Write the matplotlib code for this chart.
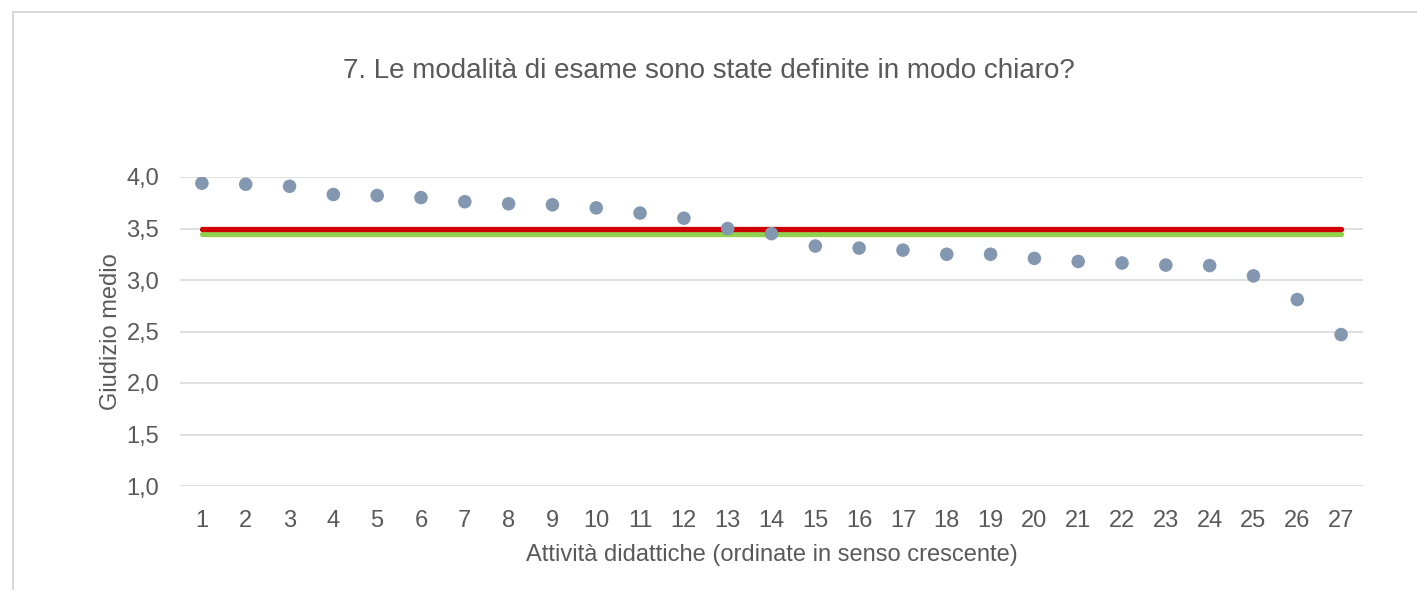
import matplotlib.pyplot as plt
from matplotlib.lines import Line2D
from matplotlib.ticker import FuncFormatter

plt.rcParams['font.family'] = ['Liberation Sans', 'DejaVu Sans']

attivita = list(range(1, 28))
giudizio = [3.94, 3.93, 3.91, 3.83, 3.82, 3.80, 3.76, 3.74, 3.73, 3.70,
            3.65, 3.60, 3.50, 3.45, 3.33, 3.31, 3.29, 3.25, 3.25, 3.21,
            3.18, 3.165, 3.145, 3.14, 3.04, 2.81, 2.47]
media_rossa = 3.50
media_verde = 3.445
yticks = [1.0, 1.5, 2.0, 2.5, 3.0, 3.5, 4.0]

TXT = "#595959"
GRID = "#D9D9D9"

fig = plt.figure(figsize=(14.17, 5.9), dpi=100)
ax = fig.add_axes([180 / 1417, 1 - 486 / 590, (1363 - 180) / 1417, (486 - 177) / 590])

# cornice del grafico (tagliata a destra e in basso)
fig.add_artist(Line2D([13 / 1417, 13 / 1417], [0, 1 - 12 / 590], transform=fig.transFigure,
                      color=GRID, lw=1.5))
fig.add_artist(Line2D([13 / 1417, 1], [1 - 12 / 590, 1 - 12 / 590], transform=fig.transFigure,
                      color=GRID, lw=1.5))

ax.plot(attivita, [media_verde] * len(attivita), color="#92D050", lw=3.8,
        solid_capstyle="round", zorder=2)
ax.plot(attivita, [media_rossa] * len(attivita), color="#CC0000", lw=3.8,
        solid_capstyle="round", zorder=3)
ax.scatter(attivita, giudizio, s=95, color="#8497B0", edgecolors="none", zorder=4)

ax.set_xlim(0.5, 27.5)
ax.set_ylim(1.0, 4.0)
ax.set_yticks(yticks)
ax.set_xticks(attivita)
ax.yaxis.set_major_formatter(FuncFormatter(lambda v, p: f"{v:.1f}".replace(".", ",")))
ax.grid(axis="y", color=GRID, lw=1.2)
ax.set_axisbelow(True)
for s in ax.spines.values():
    s.set_visible(False)
ax.tick_params(length=0, labelsize=17, colors=TXT)
ax.tick_params(axis="y", pad=15)
ax.tick_params(axis="x", pad=17)

ax.set_ylabel("Giudizio medio", fontsize=17, color=TXT, labelpad=3)
ax.set_xlabel("Attività didattiche (ordinate in senso crescente)", fontsize=17, color=TXT, labelpad=9)
fig.text(0.5, 1 - 71 / 590, "7. Le modalità di esame sono state definite in modo chiaro?",
         ha="center", va="center", fontsize=20, color=TXT)

fig.savefig("out.png", dpi=100)
